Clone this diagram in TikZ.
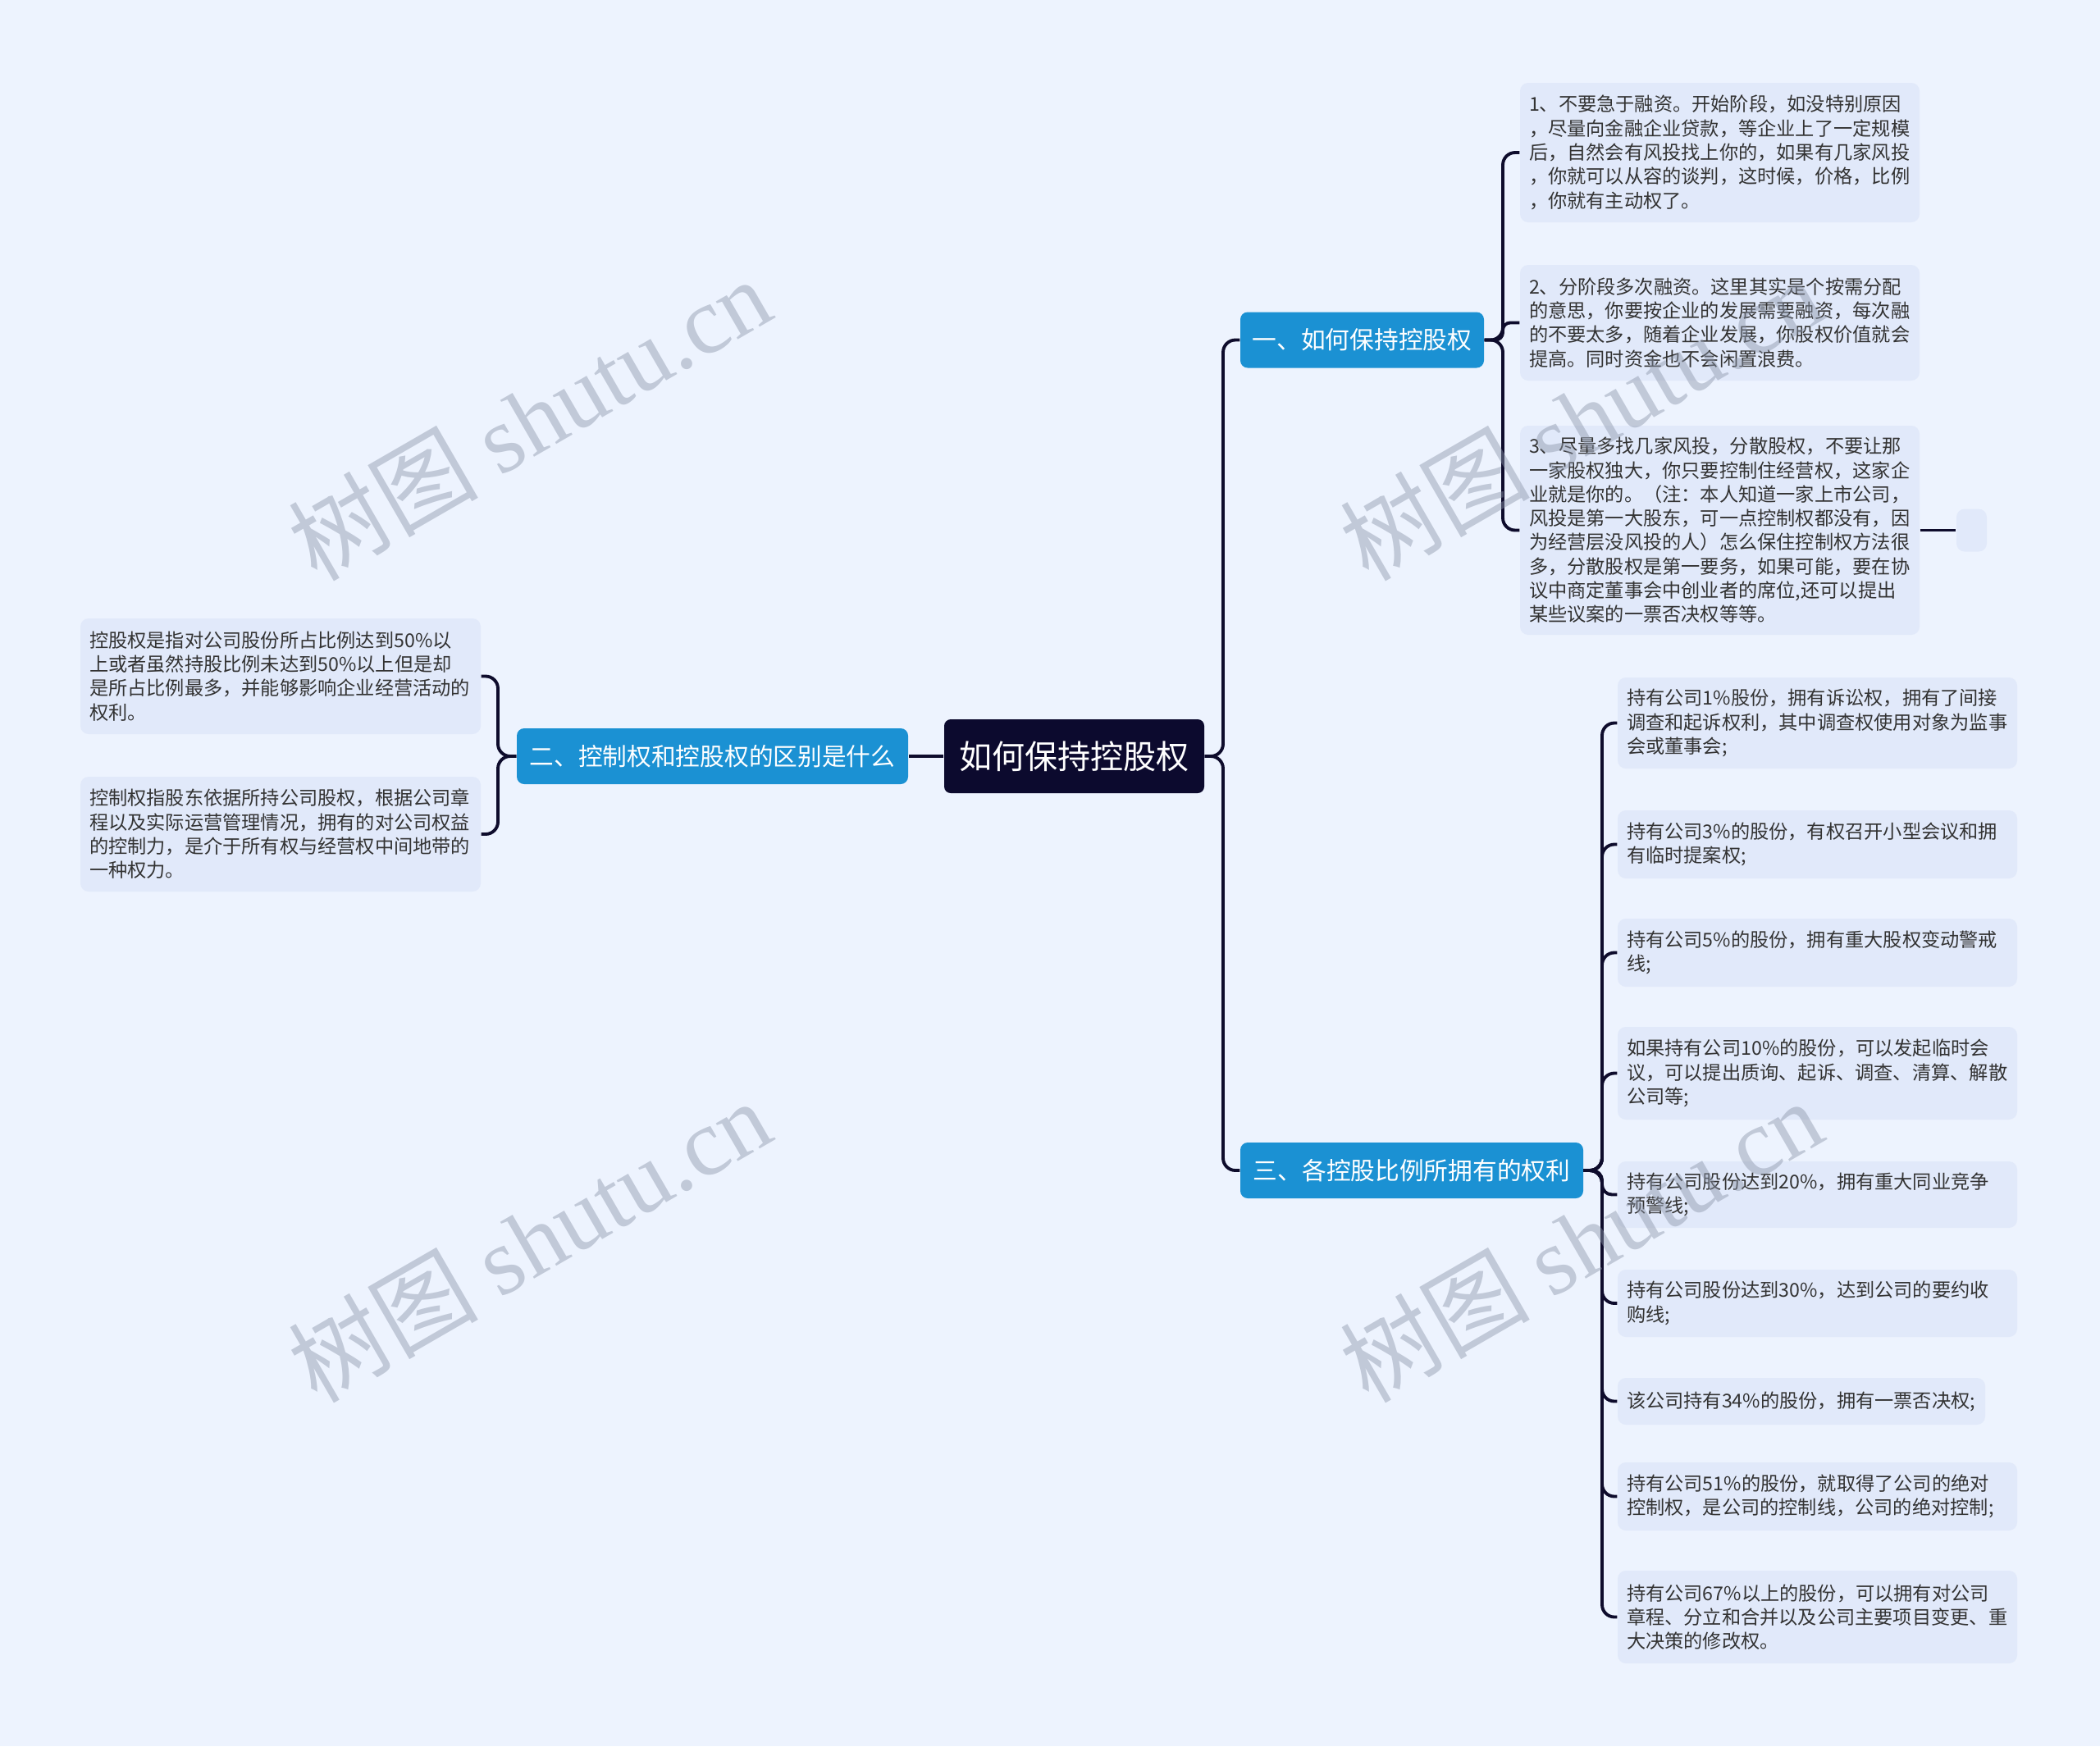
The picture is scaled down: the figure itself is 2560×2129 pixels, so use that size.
\documentclass[tikz,border=0pt]{standalone}
\usepackage{fontspec}
\setmainfont{Noto Sans CJK SC}
\newfontfamily\wmlatin{Liberation Serif}
\newfontfamily\wmcjk{Noto Sans CJK SC}
\newdimen\pxu \pxu=0.01cm
\definecolor{bgc}{HTML}{EDF3FE}
\definecolor{leaffill}{HTML}{E1E9FA}
\definecolor{branchfill}{HTML}{1B91D3}
\definecolor{rootfill}{HTML}{0C0A2E}
\definecolor{linec}{HTML}{0E0C2C}
\definecolor{leaftext}{HTML}{333333}
\definecolor{wmc}{HTML}{8C96AA}
\begin{document}
\begin{tikzpicture}[x=0.01cm,y=-0.01cm,
  leaf/.style={fill=leaffill, rounded corners=10\pxu, text=leaftext, align=left,
    inner xsep=11\pxu, inner ysep=0pt, anchor=center,
    font=\fontsize{6.6pt}{8.34pt}\selectfont},
  branch/.style={fill=branchfill, rounded corners=9\pxu, text=white, align=center,
    inner xsep=0pt, inner ysep=0pt, anchor=center, minimum height=68\pxu,
    font=\fontsize{8.45pt}{10pt}\selectfont},
  rootbox/.style={fill=rootfill, rounded corners=8\pxu, text=white, align=center,
    inner xsep=0pt, inner ysep=0pt, anchor=center,
    font=\fontsize{11.4pt}{13pt}\selectfont},
  conn/.style={draw=linec, line width=1.1pt, rounded corners=15\pxu},
  wmark/.style={text=wmc, text opacity=0.45, rotate=30, anchor=center,
    font=\fontsize{33pt}{35pt}\selectfont}
]
\fill[bgc] (0,0) rectangle (2560,2129);
\useasboundingbox (0,0) rectangle (2560,2129);

% root and branches
\node[rootbox, minimum width=317\pxu, minimum height=90\pxu] (root) at (1309.5,922) {如何保持控股权};
\node[branch, minimum width=297\pxu] (b1) at (1660.5,414.5) {一、如何保持控股权};
\node[branch, minimum width=477\pxu] (b2) at (868.5,922) {二、控制权和控股权的区别是什么};
\node[branch, minimum width=418\pxu] (b3) at (1721,1427) {三、各控股比例所拥有的权利};

% branch 1 leaves
\node[leaf, text width=465\pxu, minimum height=170\pxu] (l1) at (2096.5,186) {1、不要急于融资。开始阶段，如没特别原因\\，尽量向金融企业贷款，等企业上了一定规模\\后，自然会有风投找上你的，如果有几家风投\\，你就可以从容的谈判，这时候，价格，比例\\，你就有主动权了。};
\node[leaf, text width=465\pxu, minimum height=141\pxu] (l2) at (2096.5,393.5) {2、分阶段多次融资。这里其实是个按需分配\\的意思，你要按企业的发展需要融资，每次融\\的不要太多，随着企业发展，你股权价值就会\\提高。同时资金也不会闲置浪费。};
\node[leaf, text width=465\pxu, minimum height=255\pxu] (l3) at (2096.5,646.5) {3、尽量多找几家风投，分散股权，不要让那\\一家股权独大，你只要控制住经营权，这家企\\业就是你的。（注：本人知道一家上市公司，\\风投是第一大股东，可一点控制权都没有，因\\为经营层没风投的人）怎么保住控制权方法很\\多，分散股权是第一要务，如果可能，要在协\\议中商定董事会中创业者的席位,还可以提出\\某些议案的一票否决权等等。};
\node[leaf, inner xsep=0pt, minimum width=37\pxu, minimum height=52\pxu] (e3) at (2403.5,646.5) {};

% branch 2 leaves
\node[leaf, text width=466\pxu, minimum height=141\pxu] (ll1) at (342,824.5) {控股权是指对公司股份所占比例达到50\%以\\上或者虽然持股比例未达到50\%以上但是却\\是所占比例最多，并能够影响企业经营活动的\\权利。};
\node[leaf, text width=466\pxu, minimum height=140\pxu] (ll2) at (342,1017) {控制权指股东依据所持公司股权，根据公司章\\程以及实际运营管理情况，拥有的对公司权益\\的控制力，是介于所有权与经营权中间地带的\\一种权力。};

% branch 3 leaves
\node[leaf, text width=465\pxu, minimum height=111\pxu] (r1) at (2215.5,881.5) {持有公司1\%股份，拥有诉讼权，拥有了间接\\调查和起诉权利，其中调查权使用对象为监事\\会或董事会;};
\node[leaf, text width=465\pxu, minimum height=83\pxu] (r2) at (2215.5,1029.5) {持有公司3\%的股份，有权召开小型会议和拥\\有临时提案权;};
\node[leaf, text width=465\pxu, minimum height=83\pxu] (r3) at (2215.5,1161.5) {持有公司5\%的股份，拥有重大股权变动警戒\\线;};
\node[leaf, text width=465\pxu, minimum height=113\pxu] (r4) at (2215.5,1308.5) {如果持有公司10\%的股份，可以发起临时会\\议，可以提出质询、起诉、调查、清算、解散\\公司等;};
\node[leaf, text width=465\pxu, minimum height=81\pxu] (r5) at (2215.5,1456.5) {持有公司股份达到20\%，拥有重大同业竞争\\预警线;};
\node[leaf, text width=465\pxu, minimum height=82\pxu] (r6) at (2215.5,1589) {持有公司股份达到30\%，达到公司的要约收\\购线;};
\node[leaf, text width=426\pxu, minimum height=57\pxu] (r7) at (2196,1708.5) {该公司持有34\%的股份，拥有一票否决权;};
\node[leaf, text width=465\pxu, minimum height=83\pxu] (r8) at (2215.5,1824.5) {持有公司51\%的股份，就取得了公司的绝对\\控制权，是公司的控制线，公司的绝对控制;};
\node[leaf, text width=465\pxu, minimum height=113\pxu] (r9) at (2215.5,1971.5) {持有公司67\%以上的股份，可以拥有对公司\\章程、分立和合并以及公司主要项目变更、重\\大决策的修改权。};

% spine coordinates
\coordinate (s0) at (1491,922);
\coordinate (s1) at (1832,414.5);
\coordinate (s2) at (607,922);
\coordinate (s3) at (1953,1427);

% root connectors
\draw[conn] (root.east) -- (s0) |- (b1.west);
\draw[conn] (root.east) -- (s0) |- (b3.west);
\draw[conn] (root.west) -- (b2.east);

% branch 1 connectors
\draw[conn] (b1.east) -- (s1) |- (l1.west);
\draw[conn, rounded corners=9\pxu] (b1.east) -- (s1) |- (l2.west);
\draw[conn] (b1.east) -- (s1) |- (l3.west);
\draw[conn] (l3.east) -- (e3.west);

% branch 2 connectors
\draw[conn] (b2.west) -- (s2) |- (ll1.east);
\draw[conn] (b2.west) -- (s2) |- (ll2.east);

% branch 3 connectors
\draw[conn] (b3.east) -- (s3) |- (r1.west);
\draw[conn] (b3.east) -- (s3) |- (r2.west);
\draw[conn] (b3.east) -- (s3) |- (r3.west);
\draw[conn] (b3.east) -- (s3) |- (r4.west);
\draw[conn, rounded corners=12\pxu] (b3.east) -- (s3) |- (r5.west);
\draw[conn] (b3.east) -- (s3) |- (r6.west);
\draw[conn] (b3.east) -- (s3) |- (r7.west);
\draw[conn] (b3.east) -- (s3) |- (r8.west);
\draw[conn] (b3.east) -- (s3) |- (r9.west);

% watermarks
\node[wmark] (wm1) at (645,510) {{\wmcjk 树图} {\wmlatin shutu.cn}};
\node[wmark] (wm2) at (1927,510) {{\wmcjk 树图} {\wmlatin shutu.cn}};
\node[wmark] (wm3) at (645,1512) {{\wmcjk 树图} {\wmlatin shutu.cn}};
\node[wmark] (wm4) at (1927,1512) {{\wmcjk 树图} {\wmlatin shutu.cn}};
\end{tikzpicture}
\end{document}
